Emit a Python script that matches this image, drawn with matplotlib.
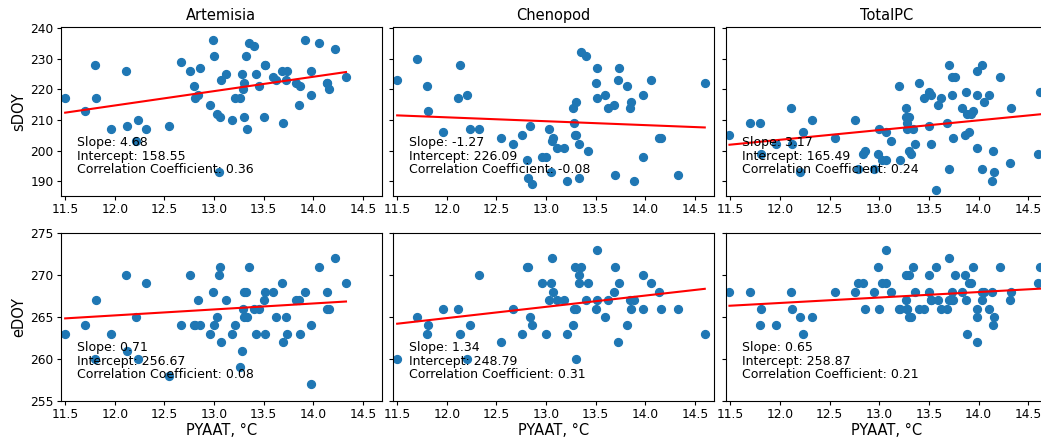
import matplotlib.pyplot as plt

# Pollen types (columns) and y variables (rows)
titles = ['Artemisia', 'Chenopod', 'TotalPC']
row_labels = ['sDOY', 'eDOY']

# Artemisia: PYAAT (x), start and end day of year
art_pyaat = [11.50, 11.70, 11.80, 11.81, 11.96, 12.11, 12.12, 12.21, 12.23, 12.31,
             12.55, 12.67, 12.76, 12.80, 12.81, 12.84, 12.86, 12.96, 12.99, 13.00,
             13.03, 13.05, 13.06, 13.07, 13.12, 13.18, 13.21, 13.26, 13.28, 13.29,
             13.30, 13.30, 13.32, 13.33, 13.35, 13.40, 13.42, 13.45, 13.50, 13.51,
             13.51, 13.59, 13.62, 13.69, 13.70, 13.73, 13.74, 13.83, 13.86, 13.87,
             13.92, 13.98, 13.98, 14.06, 14.14, 14.14, 14.16, 14.22, 14.33]
art_sdoy = [217, 213, 228, 217, 207, 226, 208, 203, 210, 207,
            208, 229, 226, 221, 217, 218, 227, 215, 236, 231,
            212, 193, 211, 223, 225, 210, 217, 217, 225, 220,
            222, 211, 231, 207, 235, 234, 225, 221, 211, 228,
            228, 224, 223, 226, 209, 223, 226, 222, 215, 221,
            236, 226, 218, 235, 222, 222, 220, 233, 224]
art_edoy = [263, 264, 260, 267, 263, 270, 261, 265, 260, 269,
            258, 264, 270, 264, 264, 267, 264, 263, 268, 264,
            265, 270, 271, 262, 267, 263, 264, 259, 261, 266,
            268, 265, 268, 265, 271, 266, 263, 266, 267, 268,
            263, 268, 265, 269, 262, 265, 263, 267, 267, 263,
            268, 264, 257, 271, 268, 266, 266, 272, 269]

# Chenopod
che_pyaat = [11.50, 11.70, 11.80, 11.81, 11.96, 12.11, 12.13, 12.20, 12.23, 12.32,
             12.55, 12.67, 12.76, 12.81, 12.82, 12.84, 12.86, 12.96, 13.00, 13.03,
             13.05, 13.06, 13.07, 13.11, 13.18, 13.21, 13.27, 13.28, 13.29, 13.30,
             13.30, 13.33, 13.33, 13.35, 13.40, 13.42, 13.50, 13.51, 13.51, 13.59,
             13.62, 13.69, 13.70, 13.73, 13.74, 13.82, 13.85, 13.86, 13.89, 13.98,
             13.98, 14.06, 14.14, 14.16, 14.33, 14.60]
che_sdoy = [223, 230, 221, 213, 206, 217, 228, 218, 207, 207,
            204, 202, 205, 197, 191, 208, 189, 198, 198, 207,
            193, 203, 204, 201, 201, 190, 214, 209, 205, 205,
            216, 202, 191, 232, 231, 200, 222, 227, 217, 218,
            214, 215, 192, 223, 227, 221, 214, 216, 190, 198,
            218, 223, 204, 204, 192, 222]
che_edoy = [260, 265, 263, 264, 266, 266, 263, 260, 264, 270,
            262, 266, 263, 271, 271, 265, 264, 269, 263, 267,
            269, 272, 268, 267, 267, 263, 264, 266, 271, 266,
            260, 270, 269, 271, 267, 269, 266, 267, 273, 265,
            267, 268, 271, 262, 269, 264, 267, 266, 267, 270,
            266, 269, 268, 266, 266, 263]

# TotalPC
tot_pyaat = [11.49, 11.70, 11.80, 11.81, 11.96, 12.11, 12.12, 12.20, 12.23, 12.32,
             12.55, 12.76, 12.79, 12.84, 12.86, 12.95, 12.99, 13.00, 13.03, 13.07,
             13.07, 13.12, 13.20, 13.21, 13.27, 13.27, 13.28, 13.28, 13.30, 13.30,
             13.32, 13.34, 13.36, 13.40, 13.45, 13.50, 13.50, 13.52, 13.52, 13.57,
             13.59, 13.62, 13.68, 13.70, 13.70, 13.73, 13.73, 13.74, 13.76, 13.83,
             13.86, 13.87, 13.88, 13.90, 13.92, 13.94, 13.98, 13.98, 13.98, 14.03,
             14.03, 14.06, 14.11, 14.14, 14.15, 14.16, 14.22, 14.32, 14.33, 14.60,
             14.62]
tot_sdoy = [205, 209, 209, 199, 202, 214, 202, 193, 206, 210,
            204, 210, 194, 199, 200, 194, 199, 207, 197, 206,
            197, 203, 221, 197, 214, 211, 209, 207, 211, 200,
            199, 207, 202, 222, 217, 219, 208, 218, 202, 187,
            215, 217, 209, 228, 194, 218, 224, 204, 224, 214,
            205, 219, 212, 206, 212, 213, 218, 201, 226, 228,
            194, 216, 218, 190, 200, 193, 224, 196, 214, 199,
            219]
tot_edoy = [268, 268, 264, 266, 264, 268, 266, 265, 263, 265,
            268, 268, 269, 269, 266, 268, 271, 266, 269, 273,
            269, 268, 266, 266, 270, 267, 266, 266, 270, 265,
            265, 271, 268, 266, 266, 270, 268, 267, 267, 271,
            267, 266, 266, 272, 267, 268, 267, 267, 270, 268,
            270, 267, 263, 269, 269, 271, 266, 265, 262, 267,
            268, 268, 266, 268, 264, 265, 271, 267, 268, 269,
            271]

# regression results printed on each panel
sdoy_slope = [4.68, -1.27, 3.17]
sdoy_intercept = [158.55, 226.09, 165.49]
sdoy_corr = [0.36, -0.08, 0.24]
edoy_slope = [0.71, 1.34, 0.65]
edoy_intercept = [256.67, 248.79, 258.87]
edoy_corr = [0.08, 0.31, 0.21]

xs = [art_pyaat, che_pyaat, tot_pyaat]
ys = [[art_sdoy, che_sdoy, tot_sdoy], [art_edoy, che_edoy, tot_edoy]]
slopes = [sdoy_slope, edoy_slope]
intercepts = [sdoy_intercept, edoy_intercept]
corrs = [sdoy_corr, edoy_corr]
ylims = [(185.2, 240.3), (255, 275)]
yticks = [[190, 200, 210, 220, 230, 240], [255, 260, 265, 270, 275]]

W, H = 1041, 441
fig = plt.figure(figsize=(W / 100, H / 100), dpi=100)

# axes boxes in pixels (third column runs past the right edge)
col_left = [60.7, 392.7, 726]
col_width = 321
row_top = [27, 233]
row_height = [169, 168]

for r in range(2):
    for c in range(3):
        ax = fig.add_axes([col_left[c] / W, (H - row_top[r] - row_height[r]) / H,
                           col_width / W, row_height[r] / H])
        x = xs[c]
        y = ys[r][c]
        ax.scatter(x, y, color='C0', s=32)
        x0, x1 = min(x), max(x)
        m, b = slopes[r][c], intercepts[r][c]
        ax.plot([x0, x1], [m * x0 + b, m * x1 + b], color='red')
        ax.text(0.05, 0.135,
                f'Slope: {m:.2f}\nIntercept: {b:.2f}\nCorrelation Coefficient: {corrs[r][c]:.2f}',
                transform=ax.transAxes, fontsize=9, linespacing=1.05)
        ax.set_xlim(11.455, 14.69)
        ax.set_xticks([11.5, 12.0, 12.5, 13.0, 13.5, 14.0, 14.5])
        ax.set_ylim(*ylims[r])
        ax.set_yticks(yticks[r])
        ax.tick_params(labelsize=8.8, length=3, pad=2)
        if c == 0:
            ax.set_ylabel(row_labels[r], fontsize=10.5, labelpad=3)
        else:
            ax.tick_params(labelleft=False)
        if r == 0:
            ax.set_title(titles[c], fontsize=10.5, pad=5)
        else:
            ax.set_xlabel('PYAAT, °C', fontsize=10.5, labelpad=1.5)

plt.savefig('out.png', dpi=100)
